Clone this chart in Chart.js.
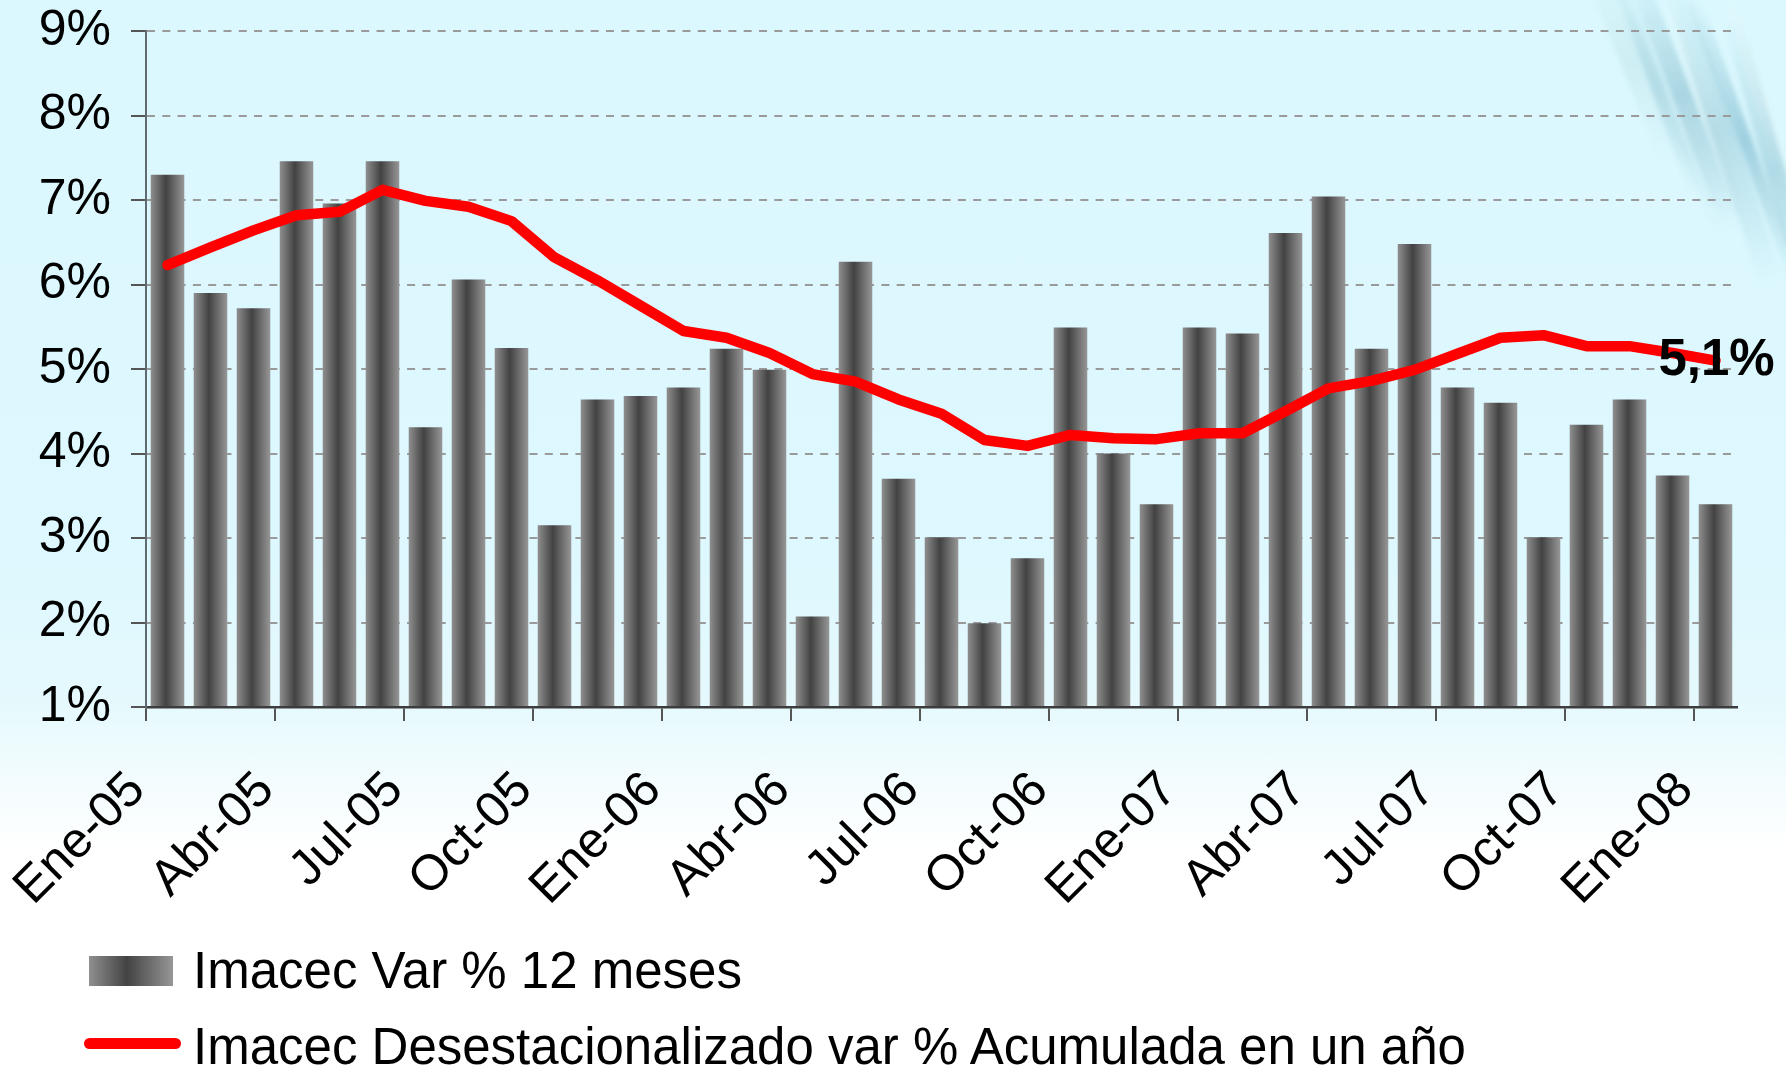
<!DOCTYPE html>
<html>
<head>
<meta charset="utf-8">
<script src="https://cdn.jsdelivr.net/npm/chart.js@4.4.1/dist/chart.umd.min.js"></script>
<style>
  html, body { margin: 0; padding: 0; }
  body {
    width: 1786px; height: 1068px; overflow: hidden; position: relative;
    font-family: "Liberation Sans", Arial, sans-serif;
    background: linear-gradient(to bottom, #dbf8fe 0px, #ddf8fe 560px, #e5f9fd 700px, #f3fcfe 780px, #ffffff 850px, #ffffff 1068px);
  }
  #deco { position: absolute; left: 1560px; top: 0; width: 226px; height: 360px; overflow: hidden; }
  #deco div { position: absolute; filter: blur(2.5px); border-radius: 6px; }
  #chartBox { position: absolute; left: 0; top: 0; width: 1786px; height: 1068px; }
  .lg-text { position: absolute; font-size: 51px; line-height: 51px; color: #000; white-space: nowrap; }
  .lg-box { position: absolute; left: 89px; top: 956px; width: 84px; height: 30px;
    background: linear-gradient(to right, #8f8f8f 0%, #434343 45%, #969696 100%); }
  .lg-line { position: absolute; left: 84px; top: 1038px; width: 97px; height: 11px; border-radius: 6px; background: #ff0000; }
</style>
</head>
<body>
<div id="deco">
  <div style="left:60px;top:-50px;width:30px;height:220px;transform:rotate(-22deg);background:linear-gradient(to bottom,rgba(190,225,232,0),rgba(190,225,232,0.45),rgba(190,225,232,0));"></div>
  <div style="left:90px;top:-30px;width:14px;height:230px;transform:rotate(-20deg);background:linear-gradient(to bottom,rgba(140,195,212,0),rgba(140,195,212,0.45),rgba(140,195,212,0));"></div>
  <div style="left:112px;top:-40px;width:20px;height:270px;transform:rotate(-21deg);background:linear-gradient(to bottom,rgba(120,180,200,0),rgba(120,180,200,0.5),rgba(120,180,200,0));"></div>
  <div style="left:140px;top:-20px;width:12px;height:260px;transform:rotate(-19deg);background:linear-gradient(to bottom,rgba(200,235,240,0),rgba(230,248,250,0.7),rgba(200,235,240,0));"></div>
  <div style="left:150px;top:-30px;width:24px;height:320px;transform:rotate(-18deg);background:linear-gradient(to bottom,rgba(140,195,212,0),rgba(140,195,212,0.5),rgba(140,195,212,0));"></div>
  <div style="left:178px;top:-10px;width:14px;height:300px;transform:rotate(-20deg);background:linear-gradient(to bottom,rgba(110,175,198,0),rgba(110,175,198,0.55),rgba(110,175,198,0));"></div>
  <div style="left:196px;top:-20px;width:12px;height:250px;transform:rotate(-17deg);background:linear-gradient(to bottom,rgba(215,240,245,0),rgba(235,250,252,0.7),rgba(215,240,245,0));"></div>
  <div style="left:205px;top:10px;width:20px;height:320px;transform:rotate(-16deg);background:linear-gradient(to bottom,rgba(130,190,208,0),rgba(130,190,208,0.5),rgba(130,190,208,0));"></div>
  <div style="left:120px;top:40px;width:40px;height:200px;transform:rotate(-20deg);background:linear-gradient(to bottom,rgba(175,215,226,0),rgba(175,215,226,0.3),rgba(175,215,226,0));"></div>
</div>
<div id="chartBox"><canvas id="c" width="1786" height="1068"></canvas></div>

<div class="lg-box"></div>
<div class="lg-text" style="left:193px;top:945px;">Imacec Var % 12 meses</div>
<div class="lg-line"></div>
<div class="lg-text" style="left:193px;top:1021px;">Imacec Desestacionalizado var % Acumulada en un año</div>

<script>
// ---- data ----
const categories = [
  'Ene-05','Feb-05','Mar-05','Abr-05','May-05','Jun-05','Jul-05','Ago-05','Sep-05','Oct-05','Nov-05','Dic-05',
  'Ene-06','Feb-06','Mar-06','Abr-06','May-06','Jun-06','Jul-06','Ago-06','Sep-06','Oct-06','Nov-06','Dic-06',
  'Ene-07','Feb-07','Mar-07','Abr-07','May-07','Jun-07','Jul-07','Ago-07','Sep-07','Oct-07','Nov-07','Dic-07',
  'Ene-08'
];
const imacecVar12 = [
  7.30, 5.90, 5.72, 7.46, 6.96, 7.46, 4.31, 6.06, 5.25, 3.15,
  4.64, 4.68, 4.78, 5.24, 4.99, 2.07, 6.27, 3.70, 3.01, 1.99,
  2.76, 5.49, 4.00, 3.40, 5.49, 5.42, 6.61, 7.04, 5.24, 6.48,
  4.78, 4.60, 3.01, 4.34, 4.64, 3.74, 3.40
];
const imacecDesestAcum = [
  6.23, 6.44, 6.64, 6.82, 6.86, 7.12, 6.99, 6.92, 6.75, 6.32,
  6.05, 5.75, 5.45, 5.37, 5.19, 4.94, 4.85, 4.64, 4.47, 4.16,
  4.09, 4.22, 4.18, 4.17, 4.24, 4.24, 4.50, 4.77, 4.86, 4.99,
  5.18, 5.37, 5.40, 5.27, 5.27, 5.19, 5.10
];
const yMin = 1, yMax = 9, yStep = 1;
const labelEvery = 3;
const lastPointLabel = '5,1%';
const seriesNames = ['Imacec Var % 12 meses', 'Imacec Desestacionalizado var % Acumulada en un año'];

const FONT = '"Liberation Sans", Arial, sans-serif';

const barGradientPlugin = {
  id: 'barGradient',
  beforeDatasetsDraw(chart) {
    const meta = chart.getDatasetMeta(0);
    const ctx = chart.ctx;
    meta.data.forEach(el => {
      const p = el.getProps(['x', 'width'], true);
      const g = ctx.createLinearGradient(p.x - p.width / 2, 0, p.x + p.width / 2, 0);
      g.addColorStop(0, '#8f8f8f');
      g.addColorStop(0.45, '#424242');
      g.addColorStop(1, '#979797');
      el.options = Object.assign({}, el.options, { backgroundColor: g });
    });
  }
};

const endLabelPlugin = {
  id: 'endLabel',
  afterDatasetsDraw(chart) {
    const meta = chart.getDatasetMeta(1);
    const el = meta.data[meta.data.length - 1];
    const ctx = chart.ctx;
    ctx.save();
    ctx.font = 'bold 51px ' + FONT;
    ctx.fillStyle = '#000';
    ctx.textAlign = 'center';
    ctx.textBaseline = 'middle';
    ctx.fillText(lastPointLabel, el.x + 1, el.y);
    ctx.restore();
  }
};

new Chart(document.getElementById('c'), {
  data: {
    labels: categories,
    datasets: [
      {
        type: 'bar',
        label: seriesNames[0],
        data: imacecVar12,
        base: yMin,
        backgroundColor: '#666',
        borderWidth: 0,
        barPercentage: 0.78,
        categoryPercentage: 1.0,
        order: 2
      },
      {
        type: 'line',
        label: seriesNames[1],
        data: imacecDesestAcum,
        borderColor: '#ff0000',
        borderWidth: 10.5,
        pointRadius: 0,
        tension: 0,
        borderJoinStyle: 'round',
        borderCapStyle: 'round',
        fill: false,
        order: 1
      }
    ]
  },
  options: {
    responsive: false,
    devicePixelRatio: 1,
    animation: false,
    events: [],
    layout: { padding: { left: 0, right: 49, top: 31, bottom: 0 } },
    plugins: { legend: { display: false }, tooltip: { enabled: false } },
    scales: {
      x: {
        type: 'category',
        offset: true,
        afterFit(scale) {
          scale.height = 361;
          scale.paddingLeft = 0; scale.paddingRight = 0;
          scale.paddingTop = 0; scale.paddingBottom = 0;
        },
        grid: {
          offset: true,
          drawOnChartArea: false,
          drawTicks: true,
          tickLength: 14,
          color: ctx => (ctx.index % labelEvery === 0 ? '#555' : 'rgba(0,0,0,0)'),
          tickColor: ctx => (ctx.index % labelEvery === 0 ? '#555' : 'rgba(0,0,0,0)'),
          lineWidth: 2,
          tickWidth: 2
        },
        border: { display: true, color: '#3c3c3c', width: 2.5 },
        ticks: {
          autoSkip: false,
          maxRotation: 45,
          minRotation: 45,
          labelOffset: -30,
          padding: 40,
          color: '#000',
          font: { family: FONT, size: 50 },
          callback: (v, i) => (i % labelEvery === 0 ? categories[i] : '')
        }
      },
      y: {
        min: yMin,
        max: yMax,
        afterFit(scale) {
          scale.width = 146;
          scale.paddingTop = 0; scale.paddingBottom = 0;
          scale.paddingLeft = 0; scale.paddingRight = 0;
        },
        grid: {
          color: '#9a9a9a',
          lineWidth: 2,
          drawTicks: true,
          tickLength: 15,
          tickColor: '#555',
          tickWidth: 2,
          tickBorderDash: []
        },
        border: { display: true, color: '#5f6b70', width: 2, dash: [8, 7.3] },
        ticks: {
          stepSize: yStep,
          padding: 20,
          color: '#000',
          font: { family: FONT, size: 50 },
          callback: v => v + '%'
        }
      }
    }
  },
  plugins: [barGradientPlugin, endLabelPlugin]
});
</script>
</body>
</html>
